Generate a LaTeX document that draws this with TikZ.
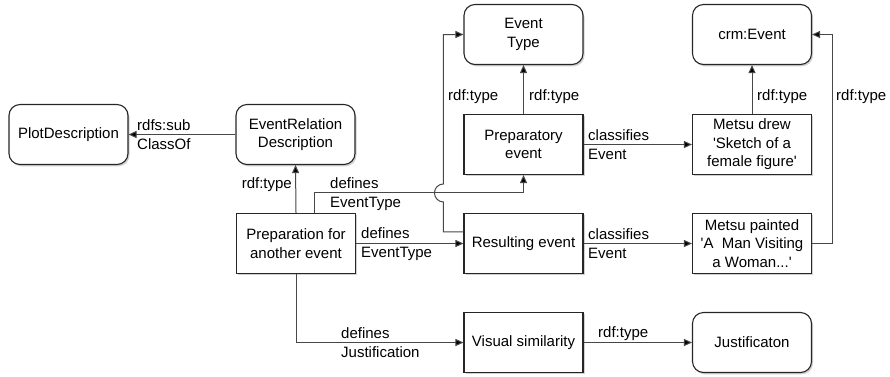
\documentclass[tikz,border=0pt]{standalone}
\usepackage{fontspec}
\setmainfont{Liberation Sans}[Ligatures=TeXOff]
\usetikzlibrary{arrows.meta,shadows,calc}

\begin{document}
\begin{tikzpicture}[x=1pt,y=-1pt,
  base/.style={draw=black!85, line width=1.1pt, fill=white, align=center,
    font=\fontsize{15}{18.5}\selectfont, inner sep=0pt,
    minimum width=119pt, minimum height=60pt,
    drop shadow={shadow xshift=1.5pt,shadow yshift=-1.8pt,opacity=0.18,fill=black}},
  classbox/.style={base, rounded corners=11pt},
  instbox/.style={base},
  link/.style={draw=black!72, line width=1pt, -{Triangle[length=8pt,width=7pt,fill=black]}},
  lbl/.style={font=\fontsize{15}{19}\selectfont, inner sep=0pt, align=left, anchor=west}
]
\useasboundingbox (0,0) rectangle (890,376);

% classes (rounded)
\node[classbox] (plot)   at (68.5,134.5)  {PlotDescription};
\node[classbox] (erd)    at (295.5,134.5) {EventRelation\\Description};
\node[classbox] (etype)  at (523.5,34.5)  {Event\\Type};
\node[classbox] (crm)    at (752,34.5)    {crm:Event};
\node[classbox] (just)   at (752,342.5)   {Justificaton};

% individuals (square)
\node[instbox] (prep)    at (296,243.5)   {Preparation for\\another event};
\node[instbox] (prepev)  at (523.5,144.5) {Preparatory\\event};
\node[instbox] (drew)    at (752,144.5)   {Metsu drew\\'Sketch of a\\female figure'};
\node[instbox] (result)  at (523.5,243.5) {Resulting event};
\node[instbox] (painted) at (752,243.5)   {Metsu painted\\'A\ \ Man Visiting\\a Woman...'};
\node[instbox] (visual)  at (523.5,342.5) {Visual similarity};

% connectors
\draw[link] (erd.west) -- (plot.east);
\draw[link] (prep.north) -- (erd.south);
\draw[link] (prep.east) -- (result.west);
\draw[link] (prepev.east) -- (drew.west);
\draw[link] (result.east) -- (painted.west);
\draw[link] (prepev.north) -- (etype.south);
\draw[link] (drew.north) -- (crm.south);
\draw[link] (visual.east) -- (just.west);
\draw[link] (prep.south) |- (visual.west);
\draw[link] (painted.east) -- ++(20,0) |- (crm.east);
\draw[link] ($(prep.north west)+(79,0)$) -- ++(0,-20) -| (prepev.south);
\draw[link] ($(result.north west)+(0,19)$) -- ++(-20,0) -- ++(0,-30)
  arc[start angle=90,end angle=270,radius=9] |- (etype.west);

% edge labels
\node[lbl] (l1)  at (137,135)  {rdfs:sub\\ClassOf};
\node[lbl,anchor=east] (l2) at (292,185) {rdf:type};
\node[lbl] (l3)  at (330,194)  {defines\\EventType};
\node[lbl] (l4)  at (361,244)  {defines\\EventType};
\node[lbl] (l5)  at (448,97)   {rdf:type};
\node[lbl] (l6)  at (529,97)   {rdf:type};
\node[lbl] (l7)  at (588,145)  {classifies\\Event};
\node[lbl] (l8)  at (757,97)   {rdf:type};
\node[lbl] (l9)  at (836,97)   {rdf:type};
\node[lbl] (l10) at (588,243.5) {classifies\\Event};
\node[lbl] (l11) at (341,343)  {defines\\Justification};
\node[lbl] (l12) at (598,334)  {rdf:type};
\end{tikzpicture}
\end{document}
